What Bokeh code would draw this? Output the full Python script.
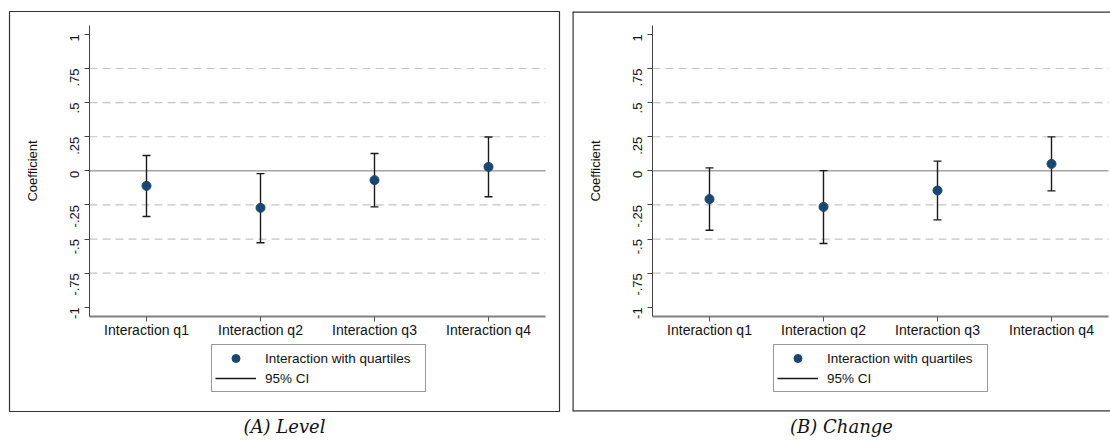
import math
from bokeh.plotting import figure
from bokeh.models import (Range1d, FixedTicker, Legend, LegendItem, LinearAxis,
                          Title, Span, ColumnDataSource)
from bokeh.layouts import row
from bokeh.embed import file_html
from bokeh.resources import INLINE

# ---- data ----
categories = ["Interaction q1", "Interaction q2", "Interaction q3", "Interaction q4"]
level_coef = [-0.110, -0.271, -0.068, 0.029]
level_lower = [-0.335, -0.527, -0.264, -0.190]
level_upper = [0.112, -0.020, 0.127, 0.248]
change_coef = [-0.207, -0.264, -0.144, 0.051]
change_lower = [-0.435, -0.532, -0.359, -0.147]
change_upper = [0.022, 0.002, 0.071, 0.249]
ytick_values = [-1, -0.75, -0.5, -0.25, 0, 0.25, 0.5, 0.75, 1]
ytick_labels = ["-1", "-.75", "-.5", "-.25", "0", ".25", ".5", ".75", "1"]
grid_values = [-0.75, -0.5, -0.25, 0.25, 0.5, 0.75]
zero_line = [0]
captions = ["(A) Level", "(B) Change"]
legend_labels = ["Interaction with quartiles", "95% CI"]
y_title = "Coefficient"

# category positions on the numeric x scale
positions = list(range(1, len(categories) + 1))

FONT = "Liberation Sans"
NAVY = "#1a476f"
H = 440
PAGE_TOP = 0  # the page is drawn without a margin

# plot-region limits (data units) and pixel geometry of the reference
X_LO, X_HI = 0.5, len(categories) + 0.5
Y_LO, Y_HI = -1.065, 1.065
PX_X = 456.0 / (X_HI - X_LO)
PX_Y = 290.7 / (Y_HI - Y_LO)
BOX_TOP, BOX_BOTTOM = 11, 411          # page y of the panel frame
INNER_TOP, INNER_BOTTOM = 25, 315.7    # page y of the plot region
LEGEND_BOTTOM = 392                    # page y of the legend's lower edge


def make_panel(coef, lower, upper, caption, width, canvas_left_page,
               box_left_page, box_right_page, inner_left_page, legend_left_page,
               draw_right_border):
    frame_left = box_left_page - canvas_left_page
    frame_right_page = min(box_right_page, canvas_left_page + width)
    x_start = X_LO - (inner_left_page - box_left_page) / PX_X
    x_end = X_LO + (frame_right_page - inner_left_page) / PX_X
    y_end = Y_HI + (INNER_TOP - BOX_TOP) / PX_Y
    y_start = Y_LO - (BOX_BOTTOM - INNER_BOTTOM) / PX_Y

    src = ColumnDataSource(dict(x=positions, coef=coef, lower=lower, upper=upper))
    p = figure(width=width, height=H, output_backend="svg", toolbar_location=None,
               title_location=None, x_axis_type=None, y_axis_type=None,
               x_range=Range1d(x_start, x_end), y_range=Range1d(y_start, y_end),
               min_border_left=frame_left,
               min_border_right=canvas_left_page + width - frame_right_page,
               min_border_top=BOX_TOP - PAGE_TOP,
               min_border_bottom=H - (BOX_BOTTOM - PAGE_TOP),
               background_fill_color="white", border_fill_color="white")
    p.xgrid.visible = False
    p.ygrid.visible = False
    if draw_right_border:
        p.outline_line_color = "#333333"
        p.outline_line_width = 1.2
    else:
        p.outline_line_color = None
        for loc, dim in ((x_start, "height"), (y_end, "width"), (y_start, "width")):
            p.add_layout(Span(location=loc, dimension=dim, line_color="#333333",
                              line_width=2.4))

    # horizontal reference lines restricted to the plot region
    n = len(grid_values)
    p.segment(x0=[X_LO] * n, x1=[X_HI] * n, y0=grid_values, y1=grid_values,
              line_color="#c4c4c4", line_dash="8 5", line_width=1.2)
    p.segment(x0=[X_LO], x1=[X_HI], y0=zero_line, y1=zero_line,
              line_color="#777777", line_width=1)

    # axes fixed at the plot-region edges
    xa = LinearAxis(fixed_location=Y_LO, bounds=(X_LO, X_HI),
                    ticker=FixedTicker(ticks=positions),
                    major_label_overrides=dict(zip(positions, categories)))
    xa.minor_tick_line_color = None
    xa.axis_line_color = "#808080"
    xa.axis_line_width = 2
    xa.major_tick_line_color = "#555555"
    xa.major_tick_in = 0
    xa.major_tick_out = 5
    xa.major_label_standoff = 1
    xa.major_label_text_font = FONT
    xa.major_label_text_font_size = "14px"
    xa.major_label_text_color = "#111111"
    p.add_layout(xa, "below")

    ya = LinearAxis(fixed_location=X_LO, bounds=(Y_LO, Y_HI),
                    ticker=FixedTicker(ticks=ytick_values),
                    major_label_overrides=dict(zip(ytick_values, ytick_labels)))
    ya.minor_tick_line_color = None
    ya.axis_line_color = "#444444"
    ya.major_tick_line_color = "#444444"
    ya.major_tick_in = 0
    ya.major_tick_out = 5
    ya.major_label_orientation = math.pi / 2
    ya.major_label_standoff = 10
    ya.major_label_text_font = FONT
    ya.major_label_text_font_size = "13px"
    ya.major_label_text_color = "#111111"
    ya.axis_label = y_title
    ya.axis_label_text_font = FONT
    ya.axis_label_text_font_style = "normal"
    ya.axis_label_text_font_size = "13px"
    ya.axis_label_text_color = "#111111"
    ya.axis_label_standoff = 23
    p.add_layout(ya, "left")

    # error bars and estimates
    seg = p.segment(x0="x", y0="lower", x1="x", y1="upper", source=src,
                    line_color="#1a1a1a", line_width=1.4)
    p.scatter(x="x", y="upper", source=src, marker="dash", size=8,
              line_color="#1a1a1a", line_width=1.4)
    p.scatter(x="x", y="lower", source=src, marker="dash", size=8,
              line_color="#1a1a1a", line_width=1.4)
    pts = p.scatter(x="x", y="coef", source=src, marker="circle", size=9,
                    fill_color=NAVY, line_color=NAVY)

    leg = Legend(items=[LegendItem(label=legend_labels[0], renderers=[pts]),
                        LegendItem(label=legend_labels[1], renderers=[seg])],
                 location=(legend_left_page - box_left_page, BOX_BOTTOM - LEGEND_BOTTOM),
                 orientation="vertical",
                 border_line_color="#333333", border_line_width=1,
                 background_fill_color="white", background_fill_alpha=1,
                 padding=3, spacing=0, margin=0, glyph_width=41, glyph_height=20,
                 label_standoff=9, label_width=157, label_height=20,
                 label_text_font=FONT, label_text_font_size="13.5px",
                 label_text_color="#111111")
    p.add_layout(leg, "center")

    cap = Title(text=caption, align="center", standoff=5,
                text_font="DejaVu Serif", text_font_style="italic",
                text_font_size="18px", text_color="#111111")
    p.add_layout(cap, "below")
    return p


p1 = make_panel(level_coef, level_lower, level_upper, captions[0],
                width=565, canvas_left_page=0, box_left_page=9, box_right_page=559,
                inner_left_page=89, legend_left_page=211, draw_right_border=True)
p2 = make_panel(change_coef, change_lower, change_upper, captions[1],
                width=545, canvas_left_page=565, box_left_page=572, box_right_page=1112,
                inner_left_page=652, legend_left_page=773, draw_right_border=False)

layout = row(p1, p2, spacing=0)
open("out.html", "w").write(file_html(layout, INLINE))
